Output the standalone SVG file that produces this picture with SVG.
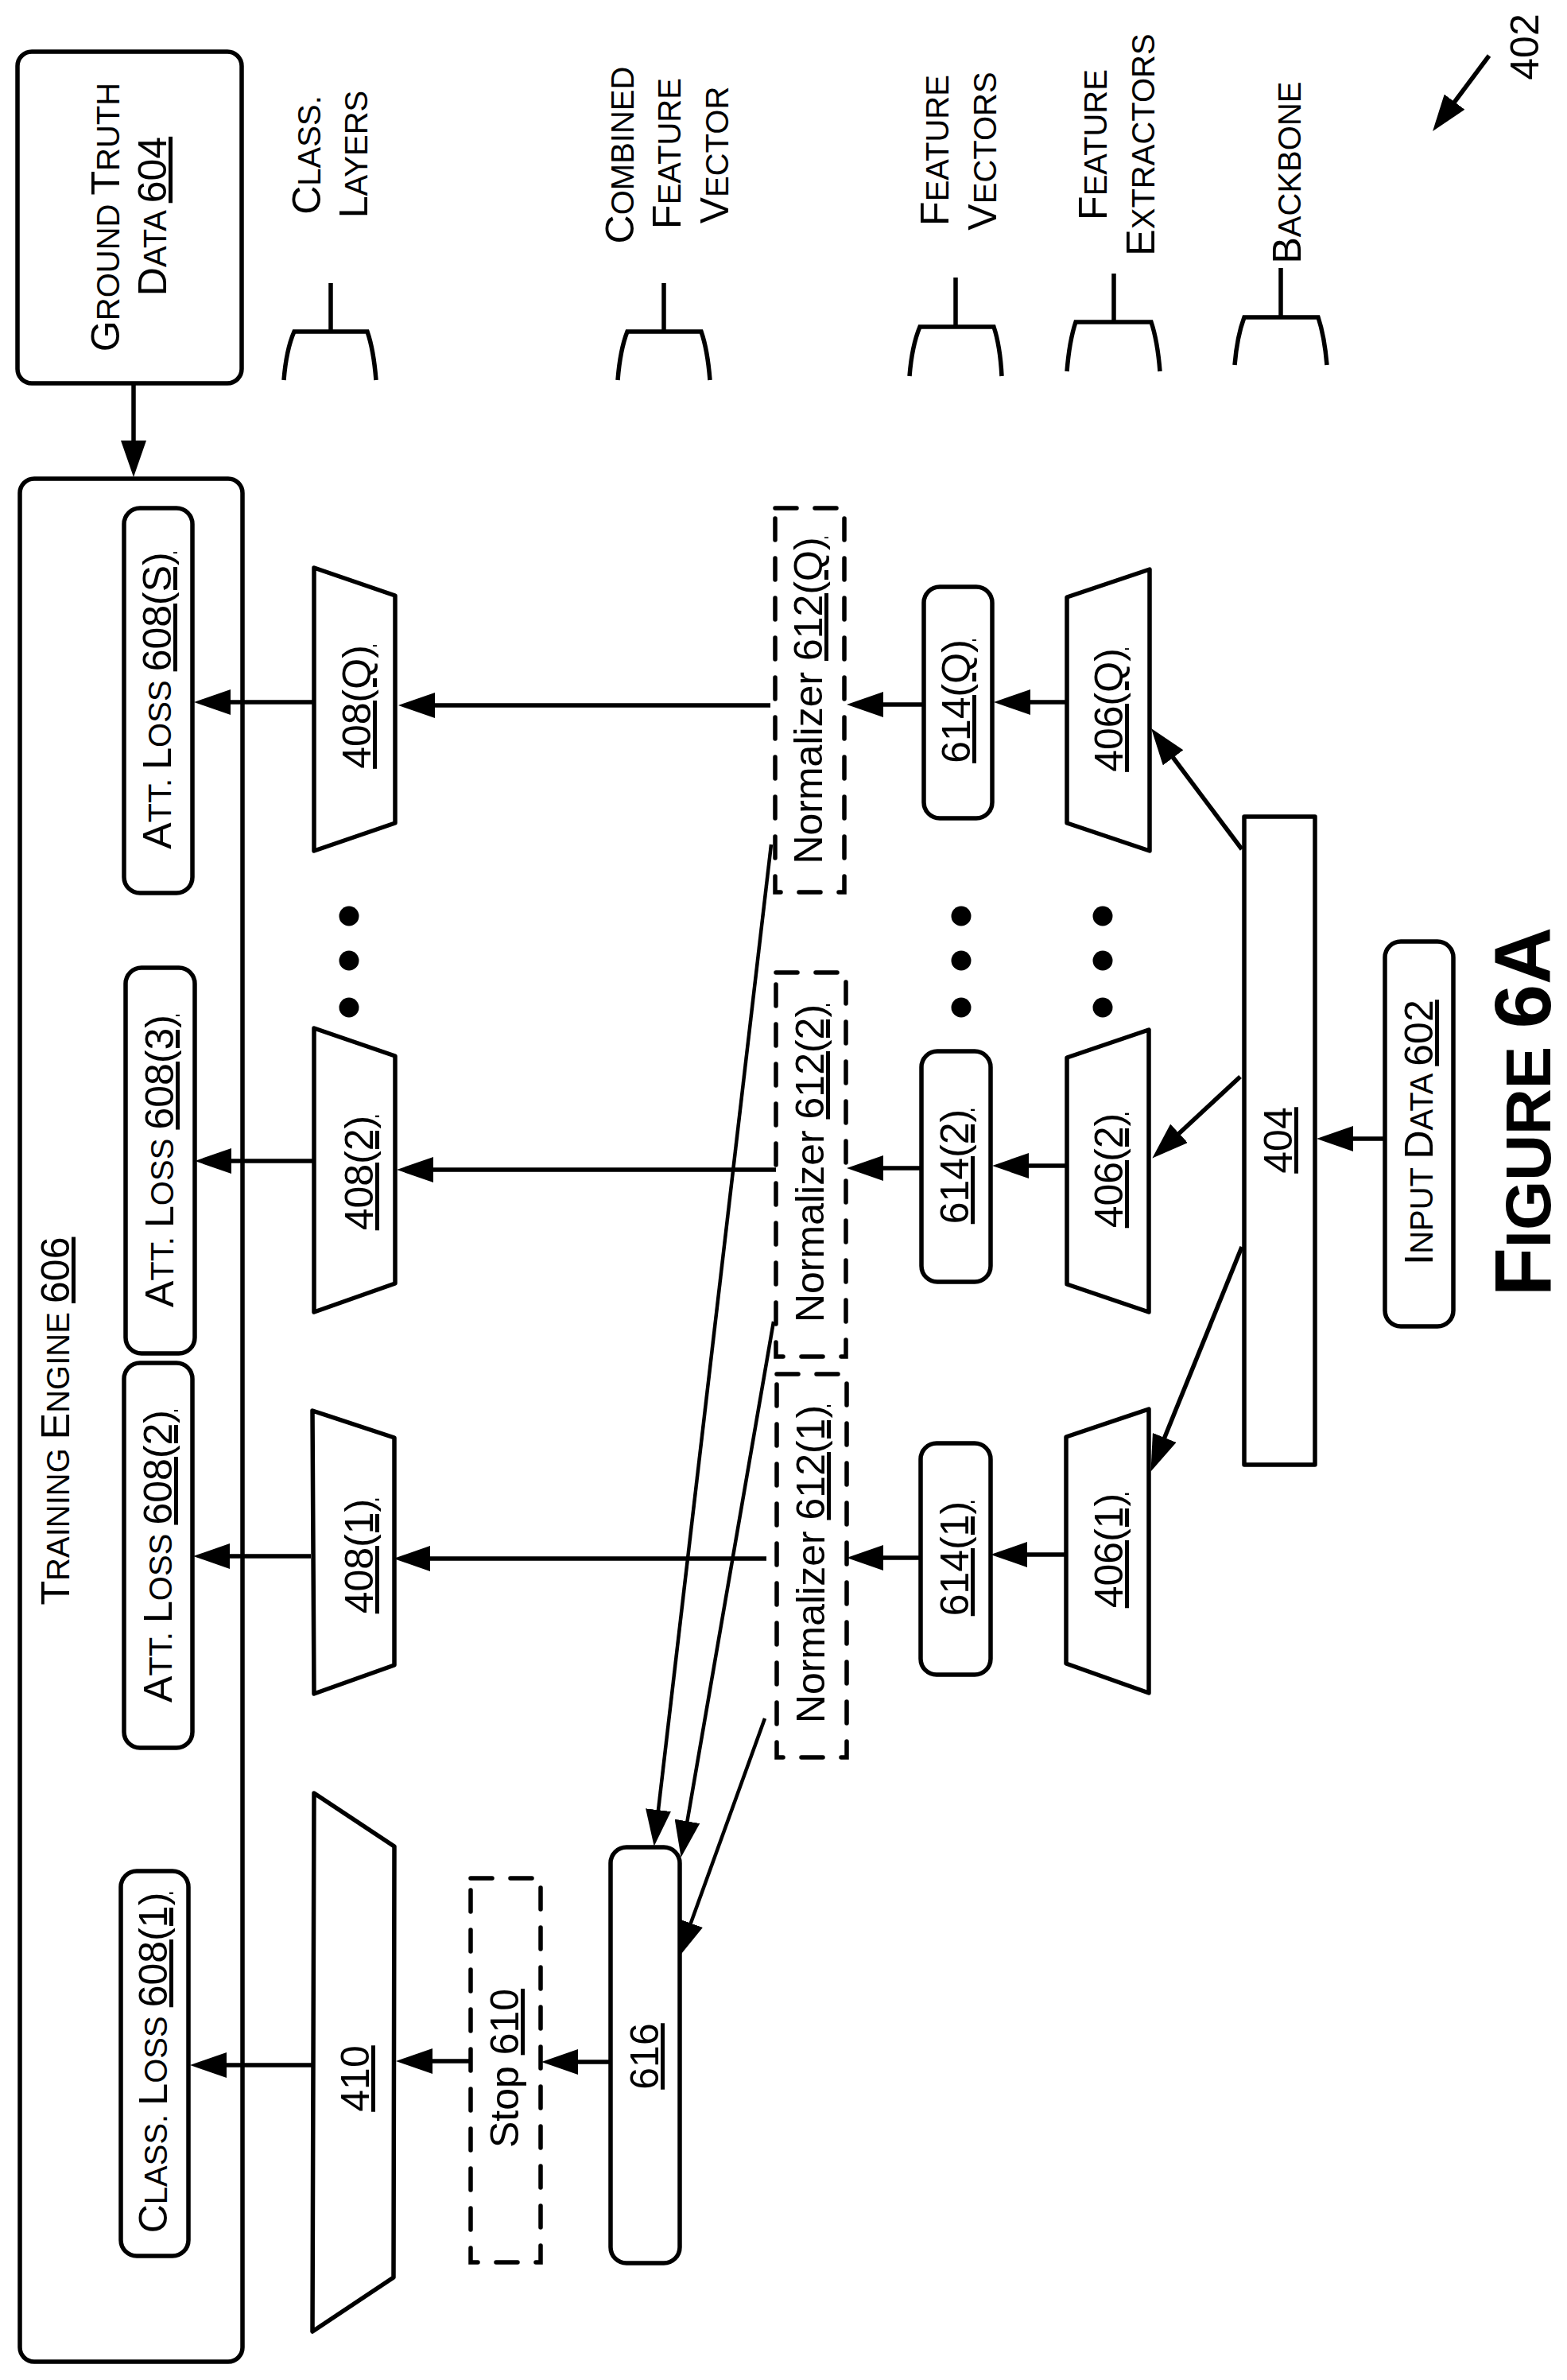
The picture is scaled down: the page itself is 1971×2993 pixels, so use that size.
<svg xmlns="http://www.w3.org/2000/svg" width="1971" height="2993" viewBox="0 0 1971 2993">
<style>
text{font-family:"Liberation Sans",Arial,sans-serif;font-size:50px;fill:#000;text-anchor:middle}
.s{font-size:40px}
.u{text-decoration:underline;text-decoration-skip-ink:none}
.b{fill:#fff;stroke:#000;stroke-width:5.5;stroke-linejoin:round}
.d{fill:none;stroke:#000;stroke-width:5.5;stroke-linecap:round;stroke-dasharray:27 23}
.br{fill:none;stroke:#000;stroke-width:5.5}
.c line{stroke:#000;stroke-width:5.5;marker-end:url(#ah)}
.c line.t{stroke-width:4.5}
.fig{font-weight:bold;font-size:100px}
.fig .s{font-size:80px}
</style>
<defs>
<marker id="ah" markerUnits="userSpaceOnUse" markerWidth="46" markerHeight="32" refX="26" refY="16" orient="auto"><path d="M0,0L46,16L0,32z" fill="#000"/></marker>
</defs>
<rect width="1971" height="2993" fill="#fff"/>

<g id="training-engine"><rect class="b" x="25" y="602" width="280" height="2368" rx="18"/>
<text transform="translate(87 1787) rotate(-90)">T<tspan class="s">RAINING </tspan>E<tspan class="s">NGINE </tspan><tspan class="u">606</tspan></text></g>
<g id="ground-truth"><rect class="b" x="22" y="65" width="282" height="417" rx="18"/>
<text transform="translate(150 273) rotate(-90)">G<tspan class="s">ROUND </tspan>T<tspan class="s">RUTH</tspan></text>
<text transform="translate(209 272) rotate(-90)">D<tspan class="s">ATA </tspan><tspan class="u">604</tspan></text></g>

<g id="legend-class-layers"><path class="br" d="M357,478Q360,440 370,417L462,417Q470,440 473,478M416,417V356"/>
<text transform="translate(403 195) rotate(-90)">C<tspan class="s">LASS.</tspan></text>
<text transform="translate(462 194) rotate(-90)">L<tspan class="s">AYERS</tspan></text></g>
<g id="legend-combined"><path class="br" d="M777,478Q780,440 789,417L882,417Q890,440 893,478M835,417V356"/>
<text transform="translate(797 195) rotate(-90)">C<tspan class="s">OMBINED</tspan></text>
<text transform="translate(856 193) rotate(-90)">F<tspan class="s">EATURE</tspan></text>
<text transform="translate(916 195) rotate(-90)">V<tspan class="s">ECTOR</tspan></text></g>
<g id="legend-feature-vectors"><path class="br" d="M1144,473Q1147,435 1157,411L1250,411Q1258,435 1260,473M1202,411V349"/>
<text transform="translate(1193 189) rotate(-90)">F<tspan class="s">EATURE</tspan></text>
<text transform="translate(1253 190) rotate(-90)">V<tspan class="s">ECTORS</tspan></text></g>
<g id="legend-extractors"><path class="br" d="M1342,467Q1345,429 1353,405L1448,405Q1456,429 1459,467M1401,405V344"/>
<text transform="translate(1392 182) rotate(-90)">F<tspan class="s">EATURE</tspan></text>
<text transform="translate(1452 182) rotate(-90)">E<tspan class="s">XTRACTORS</tspan></text></g>
<g id="legend-backbone"><path class="br" d="M1553,459Q1556,423 1565,399L1658,399Q1666,423 1669,459M1611,399V337"/>
<text transform="translate(1636 217) rotate(-90)">B<tspan class="s">ACKBONE</tspan></text></g>
<g id="ref-402"><text transform="translate(1935 59) rotate(-90)">402</text></g>

<g id="loss-s"><rect class="b" x="156" y="639" width="86" height="484" rx="20"/>
<text transform="translate(215 881) rotate(-90)">A<tspan class="s">TT. </tspan>L<tspan class="s">OSS </tspan><tspan class="u">608(S)</tspan></text></g>
<g id="loss-3"><rect class="b" x="158" y="1217" width="87" height="485" rx="20"/>
<text transform="translate(218 1460) rotate(-90)">A<tspan class="s">TT. </tspan>L<tspan class="s">OSS </tspan><tspan class="u">608(3)</tspan></text></g>
<g id="loss-2"><rect class="b" x="156" y="1714" width="86" height="484" rx="20"/>
<text transform="translate(216 1957) rotate(-90)">A<tspan class="s">TT. </tspan>L<tspan class="s">OSS </tspan><tspan class="u">608(2)</tspan></text></g>
<g id="loss-1"><rect class="b" x="152" y="2353" width="85" height="484" rx="20"/>
<text transform="translate(210 2594) rotate(-90)">C<tspan class="s">LASS. </tspan>L<tspan class="s">OSS </tspan><tspan class="u">608(1)</tspan></text></g>

<g id="n408q"><path class="b" d="M395,714L497,749V1035L395,1070z"/><text transform="translate(466 889) rotate(-90)" class="u">408(Q)</text></g>
<g id="n408-2"><path class="b" d="M395,1293L497,1328V1614L395,1650z"/><text transform="translate(469 1475) rotate(-90)" class="u">408(2)</text></g>
<g id="n408-1"><path class="b" d="M393,1774L496,1808V2094L395,2130z"/><text transform="translate(469 1957) rotate(-90)" class="u">408(1)</text></g>
<g id="n410"><path class="b" d="M395,2255L496,2322L495,2864L393,2932z"/><text transform="translate(464 2614) rotate(-90)" class="u">410</text></g>

<g id="norm-q"><rect class="d" x="975" y="639" width="87" height="483"/>
<text transform="translate(1034 881) rotate(-90)">Normalizer <tspan class="u">612(Q)</tspan></text></g>
<g id="norm-2"><rect class="d" x="976" y="1223" width="88" height="483"/>
<text transform="translate(1036 1463) rotate(-90)">Normalizer <tspan class="u">612(2)</tspan></text></g>
<g id="norm-1"><rect class="d" x="977" y="1728" width="88" height="482"/>
<text transform="translate(1037 1967) rotate(-90)">Normalizer <tspan class="u">612(1)</tspan></text></g>
<g id="stop"><rect class="d" x="592" y="2362" width="88" height="483"/>
<text transform="translate(652 2601) rotate(-90)">Stop <tspan class="u">610</tspan></text></g>
<g id="n616"><rect class="b" x="768" y="2323" width="87" height="523" rx="20"/><text transform="translate(828 2586) rotate(-90)" class="u">616</text></g>

<g id="fv-q"><rect class="b" x="1162" y="738" width="86" height="291" rx="20"/><text transform="translate(1220 882) rotate(-90)" class="u">614(Q)</text></g>
<g id="fv-2"><rect class="b" x="1159" y="1322" width="87" height="290" rx="20"/><text transform="translate(1218 1467) rotate(-90)" class="u">614(2)</text></g>
<g id="fv-1"><rect class="b" x="1158" y="1815" width="88" height="291" rx="20"/><text transform="translate(1218 1960) rotate(-90)" class="u">614(1)</text></g>

<g id="fe-q"><path class="b" d="M1342,751L1446,716V1070L1342,1035z"/><text transform="translate(1412 893) rotate(-90)" class="u">406(Q)</text></g>
<g id="fe-2"><path class="b" d="M1342,1330L1445,1295V1650L1342,1615z"/><text transform="translate(1412 1472) rotate(-90)" class="u">406(2)</text></g>
<g id="fe-1"><path class="b" d="M1341,1807L1445,1772V2129L1341,2092z"/><text transform="translate(1412 1950) rotate(-90)" class="u">406(1)</text></g>

<g id="backbone"><rect class="b" x="1565" y="1027" width="89" height="815"/><text transform="translate(1625 1434) rotate(-90)" class="u">404</text></g>
<g id="input"><rect class="b" x="1742" y="1184" width="86" height="484" rx="20"/>
<text transform="translate(1802 1424) rotate(-90)">I<tspan class="s">NPUT </tspan>D<tspan class="s">ATA </tspan><tspan class="u">602</tspan></text></g>

<g id="ellipsis">
<circle cx="439" cy="1152" r="12.5"/><circle cx="439" cy="1208" r="12.5"/><circle cx="439" cy="1267" r="12.5"/>
<circle cx="1209" cy="1152" r="12.5"/><circle cx="1209" cy="1208" r="12.5"/><circle cx="1209" cy="1267" r="12.5"/>
<circle cx="1387" cy="1152" r="12.5"/><circle cx="1387" cy="1208" r="12.5"/><circle cx="1387" cy="1267" r="12.5"/>
</g>

<g id="connectors" class="c">
<line x1="168" y1="482" x2="168" y2="580"/>
<line x1="395" y1="883" x2="264" y2="883"/>
<line x1="969" y1="887" x2="521" y2="887"/>
<line x1="395" y1="1460" x2="265" y2="1460"/>
<line x1="976" y1="1471" x2="519" y2="1471"/>
<line x1="391" y1="1957" x2="263" y2="1957"/>
<line x1="964" y1="1960" x2="515" y2="1960"/>
<line x1="393" y1="2597" x2="259" y2="2597"/>
<line x1="592" y1="2592" x2="518" y2="2592"/>
<line x1="768" y1="2593" x2="701" y2="2593"/>
<line x1="1342" y1="883" x2="1270" y2="883"/>
<line x1="1162" y1="886" x2="1085" y2="886"/>
<line x1="1342" y1="1466" x2="1268" y2="1466"/>
<line x1="1159" y1="1469" x2="1085" y2="1469"/>
<line x1="1341" y1="1955" x2="1266" y2="1955"/>
<line x1="1158" y1="1959" x2="1085" y2="1959"/>
<line x1="1742" y1="1432" x2="1676" y2="1432"/>
<line x1="1562" y1="1068" x2="1460" y2="932"/>
<line x1="1560" y1="1354" x2="1464" y2="1443"/>
<line x1="1562" y1="1568" x2="1455" y2="1832"/>
<line x1="1873" y1="70" x2="1814" y2="149"/>
<line class="t" x1="970" y1="1062" x2="825" y2="2302"/>
<line class="t" x1="973" y1="1662" x2="860" y2="2316"/>
<line class="t" x1="962" y1="2161" x2="860" y2="2443"/>
</g>

<g id="figure-label"><text class="fig" transform="translate(1950 1398) rotate(-90)">F<tspan class="s">IGURE </tspan>6A</text></g>
</svg>
